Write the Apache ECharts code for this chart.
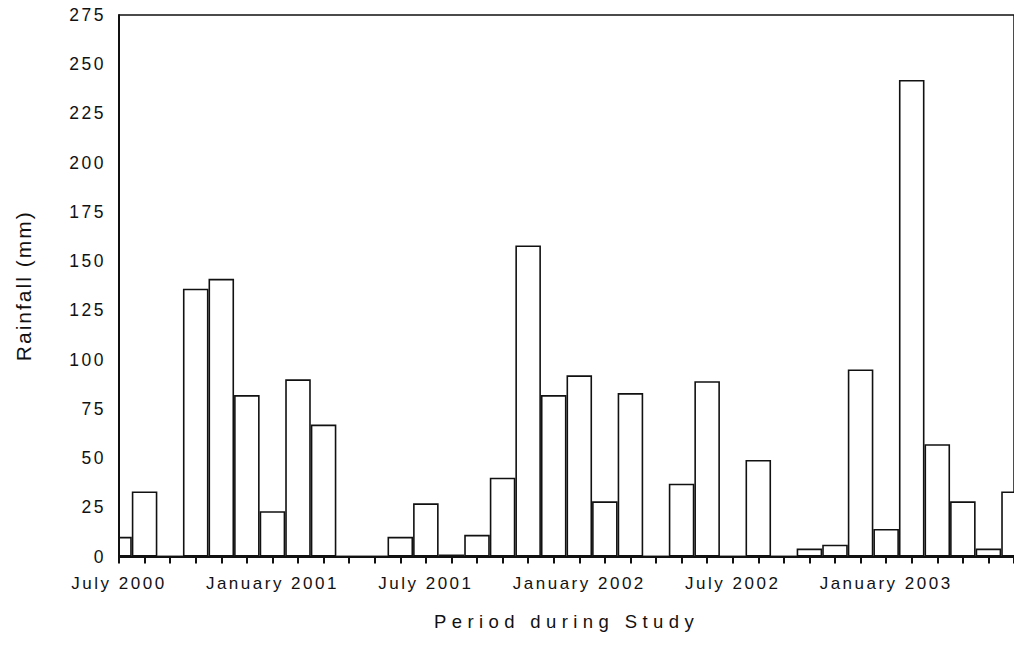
<!DOCTYPE html>
<html>
<head>
<meta charset="utf-8">
<script src="https://cdn.jsdelivr.net/npm/echarts@6/dist/echarts.min.js"></script>
<style>
html,body{margin:0;padding:0;background:#fff;}
#chart{width:1014px;height:646px;}
</style>
</head>
<body>
<div id="chart"></div>
<script>
const months = [
  'July 2000','August 2000','September 2000','October 2000','November 2000','December 2000',
  'January 2001','February 2001','March 2001','April 2001','May 2001','June 2001',
  'July 2001','August 2001','September 2001','October 2001','November 2001','December 2001',
  'January 2002','February 2002','March 2002','April 2002','May 2002','June 2002',
  'July 2002','August 2002','September 2002','October 2002','November 2002','December 2002',
  'January 2003','February 2003','March 2003','April 2003','May 2003','June 2003'
];
const rainfall = [
  10, 33, 0, 136, 141, 82, 23, 90, 67, 0, 0, 10,
  27, 1, 11, 40, 158, 82, 92, 28, 83, 0, 37, 89,
  0, 49, 0, 4, 6, 95, 14, 242, 57, 28, 4, 33
];
const yMin = 0, yMax = 275, yStep = 25;
const xTitle = 'Period during Study';
const yTitle = 'Rainfall (mm)';

const FONT = '"Liberation Sans", Arial, Helvetica, sans-serif';
const GRID_LEFT = 119, GRID_TOP = 15, GRID_H = 541.5;
const chart = echarts.init(document.getElementById('chart'), null, {renderer: 'svg'});
chart.setOption({
  animation: false,
  backgroundColor: '#fff',
  grid: {
    left: GRID_LEFT, top: GRID_TOP, width: 898, height: GRID_H,
    show: true, borderColor: '#111', borderWidth: 1.5, backgroundColor: 'transparent'
  },
  // white mask hiding the half of the first month's bar that lies left of the plot
  graphic: [{
    type: 'rect', z: 3, silent: true,
    shape: {x: 0, y: 0, width: GRID_LEFT - 0.5, height: GRID_TOP + GRID_H + 1},
    style: {fill: '#fff'}
  }],
  xAxis: {
    type: 'category',
    z: 5,
    data: months,
    boundaryGap: false,
    name: xTitle,
    nameLocation: 'middle',
    nameGap: 55,
    nameTextStyle: {fontFamily: FONT, fontSize: 18.5, color: '#111'},
    axisLine: {lineStyle: {color: '#111', width: 2}},
    axisTick: {show: true, interval: 0, length: 7, lineStyle: {color: '#111', width: 2}},
    axisLabel: {
      interval: 5, margin: 18, fontFamily: FONT, fontSize: 17, color: '#111'
    },
    splitLine: {show: false}
  },
  yAxis: {
    type: 'value',
    z: 5,
    min: yMin, max: yMax, interval: yStep,
    name: yTitle,
    nameLocation: 'middle',
    nameGap: 85,
    nameTextStyle: {fontFamily: FONT, fontSize: 21, color: '#111'},
    axisLine: {show: true, lineStyle: {color: '#111', width: 2}},
    axisTick: {show: false},
    axisLabel: {margin: 13, fontFamily: FONT, fontSize: 17.5, color: '#111'},
    splitLine: {show: false}
  },
  series: [{
    type: 'bar',
    z: 2,
    data: rainfall,
    barCategoryGap: '0%',
    itemStyle: {color: '#fff', borderColor: '#111', borderWidth: 1.6}
  }]
});

function spaceText() {
  document.querySelectorAll('#chart svg text').forEach(t => {
    const s = t.textContent;
    let ls = 2.5;
    if (s === xTitle) ls = 5.4;
    else if (s === yTitle) ls = 2.0;
    t.style.letterSpacing = ls + 'px';
  });
}
chart.on('finished', spaceText);
setTimeout(spaceText, 50);
setTimeout(spaceText, 300);
</script>
</body>
</html>
